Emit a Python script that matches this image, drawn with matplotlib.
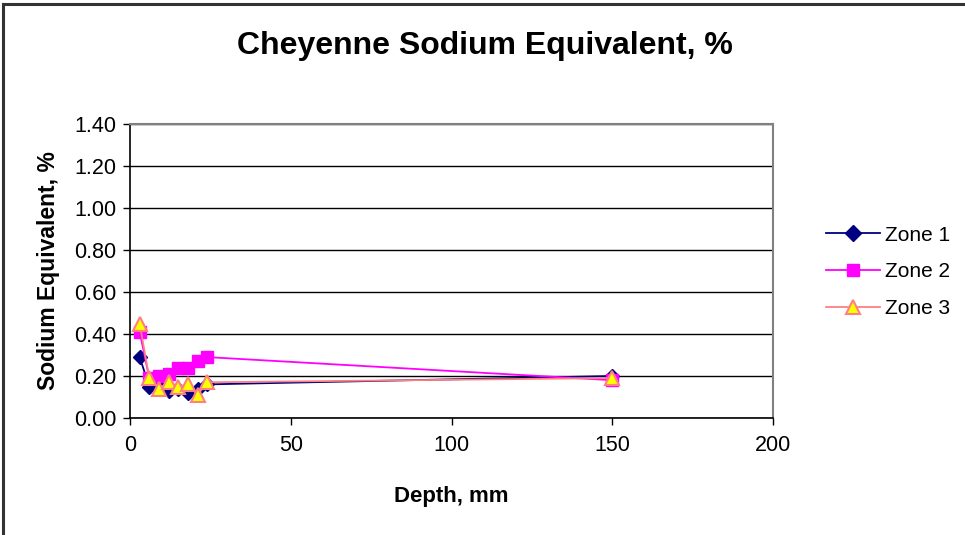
import matplotlib
matplotlib.use("Agg")
import matplotlib.pyplot as plt
from matplotlib.lines import Line2D

depth = [3, 6, 9, 12, 15, 18, 21, 24, 150]
zone1 = [0.29, 0.15, 0.16, 0.13, 0.14, 0.12, 0.14, 0.16, 0.20]
zone2 = [0.41, 0.19, 0.20, 0.21, 0.24, 0.24, 0.27, 0.29, 0.18]
zone3 = [0.45, 0.19, 0.14, 0.17, 0.15, 0.16, 0.11, 0.17, 0.19]
yticks = [0.0, 0.2, 0.4, 0.6, 0.8, 1.0, 1.2, 1.4]
xticks = [0, 50, 100, 150, 200]

plt.rcParams['font.family'] = ['Liberation Sans', 'DejaVu Sans']

fig = plt.figure(figsize=(9.65, 5.35), dpi=100)
fig.patch.set_facecolor('white')
# outer frame (top and left)
fig.add_artist(Line2D([3/965, 3/965], [0, 1-4/535], transform=fig.transFigure, color='#333333', lw=2.2))
fig.add_artist(Line2D([3/965, 1], [1-4/535, 1-4/535], transform=fig.transFigure, color='#333333', lw=2.2))

ax = fig.add_axes([130/965, 1-418/535, 643/965, 294/535])
ax.plot(depth, zone1, color='#000080', marker='D', markersize=7.5, lw=1.3,
        markerfacecolor='#000080', markeredgecolor='#000080', label='Zone 1', zorder=3)
ax.plot(depth, zone2, color='#FF00FF', marker='s', markersize=8.5, lw=1.3,
        markerfacecolor='#FF00FF', markeredgecolor='#FF00FF', label='Zone 2', zorder=4)
ax.plot(depth, zone3, color='#FF8080', marker='^', markersize=9.5, lw=1.3,
        markerfacecolor='#FFFF00', markeredgecolor='#FF8080', markeredgewidth=1.5, label='Zone 3', zorder=5)

ax.set_xlim(0, 200)
ax.set_ylim(0, 1.4)
ax.set_xticks(xticks)
ax.set_xticklabels([str(v) for v in xticks])
ax.set_yticks(yticks)
ax.set_yticklabels([f"{v:.2f}" for v in yticks])
ax.yaxis.grid(True, color='#000000', lw=1.0)
ax.set_axisbelow(True)
for s in ['top', 'right']:
    ax.spines[s].set_color('#808080')
    ax.spines[s].set_linewidth(1.5)
for s in ['left', 'bottom']:
    ax.spines[s].set_color('#000000')
    ax.spines[s].set_linewidth(1.2)
ax.tick_params(axis='both', direction='out', length=5, width=1, labelsize=15.5, colors='black')
ax.tick_params(axis='y', pad=5)
ax.tick_params(axis='x', pad=7)

ax.set_xlabel('Depth, mm', fontsize=16, fontweight='bold', labelpad=22)
ax.set_ylabel('Sodium Equivalent, %', fontsize=16.5, fontweight='bold', labelpad=10)
fig.text(485/965, 1-46/535, 'Cheyenne Sodium Equivalent, %', ha='center', va='center',
         fontsize=23, fontweight='bold')

leg = ax.legend(loc='center left', bbox_to_anchor=(826/965, 1-272/535), bbox_transform=fig.transFigure,
                frameon=False, fontsize=15, handlelength=2.6, handletextpad=0.25, labelspacing=0.85,
                borderpad=0, borderaxespad=0, markerscale=1.1)

fig.savefig('out.png', dpi=100, facecolor='white')
